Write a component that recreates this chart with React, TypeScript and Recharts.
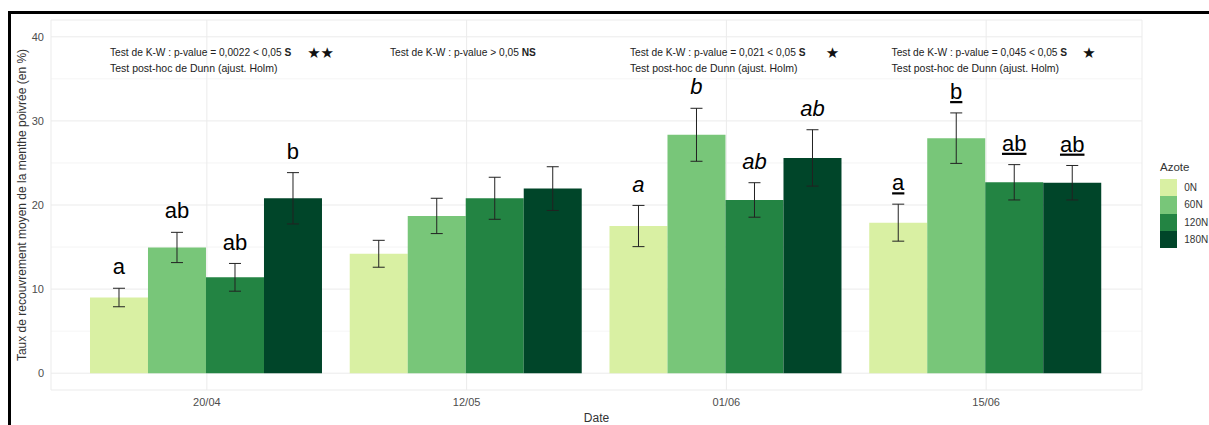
import React from 'react';
import {
  ComposedChart,
  Bar,
  XAxis,
  YAxis,
  CartesianGrid,
  ErrorBar,
  LabelList,
  ReferenceDot,
} from 'recharts';

// ---------- data ----------
const dates = ['20/04', '12/05', '01/06', '15/06'];
const datePos = [1, 2, 3, 4];
const series = ['0N', '60N', '120N', '180N'];
const colors = ['#d9f0a3', '#78c679', '#238443', '#004529'];

const mean0N = [9.0, 14.2, 17.5, 17.9];
const mean60N = [14.95, 18.7, 28.35, 27.95];
const mean120N = [11.4, 20.8, 20.6, 22.7];
const mean180N = [20.8, 21.95, 25.6, 22.65];

const se0N = [1.1, 1.6, 2.45, 2.2];
const se60N = [1.8, 2.1, 3.15, 3.0];
const se120N = [1.65, 2.5, 2.05, 2.1];
const se180N = [3.05, 2.6, 3.35, 2.05];

const letters0N = ['a', '', 'a', 'a'];
const letters60N = ['ab', '', 'b', 'b'];
const letters120N = ['ab', '', 'ab', 'ab'];
const letters180N = ['b', '', 'ab', 'ab'];
const letterStyles = ['plain', 'plain', 'italic', 'underline'];

const yTicks = [0, 10, 20, 30, 40];
const yMinorTicks = [5, 15, 25, 35];

const kwTexts = [
  'Test de K-W : p-value = 0,0022 < 0,05 ',
  'Test de K-W : p-value > 0,05 ',
  'Test de K-W : p-value = 0,021 < 0,05 ',
  'Test de K-W : p-value = 0,045 < 0,05 ',
];
const kwVerdicts = ['S', 'NS', 'S', 'S'];
const dunnTexts = [
  'Test post-hoc de Dunn (ajust. Holm)',
  '',
  'Test post-hoc de Dunn (ajust. Holm)',
  'Test post-hoc de Dunn (ajust. Holm)',
];
const annotX = [0.627, 1.705, 2.629, 3.636];
const annotY = 37.7;
const stars = ['★★', '', '★', '★'];
const starX = [1.386, 0, 3.383, 4.37];

const means = [mean0N, mean60N, mean120N, mean180N];
const ses = [se0N, se60N, se120N, se180N];
const letters = [letters0N, letters60N, letters120N, letters180N];

const data = dates.map((d, i) => {
  const row: any = { date: d, pos: datePos[i] };
  series.forEach((_, s) => {
    row[`m${s}`] = means[s][i];
    row[`e${s}`] = ses[s][i];
    row[`l${s}`] = letters[s][i];
  });
  return row;
});

const FONT = '"Liberation Sans", Arial, Helvetica, sans-serif';
const LETTER_PAD = 1.65;

const makeLetter = (si: number) => (props: any) => {
  const { index, value } = props;
  if (!value) return null;
  const vb = props.viewBox || {};
  const x = props.x ?? vb.x;
  const y = props.y ?? vb.y;
  const w = props.width ?? vb.width;
  const h = props.height ?? vb.height;
  const m = means[si][index];
  const e = ses[si][index];
  const ppu = Math.abs(h) / m;
  const ly = y - (e + LETTER_PAD) * ppu;
  const st = letterStyles[index];
  return (
    <text
      x={x + w / 2}
      y={ly}
      textAnchor="middle"
      fontSize={22}
      fontFamily={FONT}
      fontStyle={st === 'italic' ? 'italic' : 'normal'}
      textDecoration={st === 'underline' ? 'underline' : undefined}
      style={st === 'underline' ? { textDecoration: 'underline' } : undefined}
      fill="#000"
    >
      {value}
    </text>
  );
};

const makeAnnot = (i: number) => (p: any) => (
  <g>
    <text x={p.cx} y={p.cy} fontSize={10.2} fontFamily={FONT} fill="#222">
      {kwTexts[i]}
      <tspan fontWeight="bold">{kwVerdicts[i]}</tspan>
    </text>
    {dunnTexts[i] ? (
      <text x={p.cx} y={p.cy + 15.5} fontSize={10.5} fontFamily={FONT} fill="#222">
        {dunnTexts[i]}
      </text>
    ) : null}
  </g>
);

const makeStar = (i: number) => (p: any) => (
  <text x={p.cx} y={p.cy + 1.5} fontSize={15} fontFamily='"DejaVu Sans", sans-serif' fill="#111">
    {stars[i]}
  </text>
);

const YLabel = (props: any) => {
  const vb = props.viewBox || {};
  const cx = vb.x + 22;
  const cy = vb.y + vb.height / 2;
  return (
    <text
      x={cx}
      y={cy}
      transform={`rotate(-90, ${cx}, ${cy})`}
      textAnchor="middle"
      dominantBaseline="central"
      fontSize={12}
      fontFamily={FONT}
      fill="#333"
    >
      Taux de recouvrement moyen de la menthe poivrée (en %)
    </text>
  );
};

export default function App() {
  return (
    <div style={{ position: 'absolute', left: 0, top: 0, width: 1209, height: 425, background: '#fff', overflow: 'hidden' }}>
      <ComposedChart
        width={1209}
        height={425}
        data={data}
        margin={{ top: 20, right: 67, bottom: 0, left: 0 }}
        barCategoryGap="5%"
        barGap={0}
        style={{ fontFamily: FONT }}
      >
        <CartesianGrid stroke="#f1f1f1" strokeWidth={0.7} vertical={false} horizontalValues={yMinorTicks} />
        <CartesianGrid stroke="#ebebeb" strokeWidth={1} />
        <XAxis
          dataKey="date"
          padding={{ left: 26, right: 26 }}
          axisLine={false}
          tickLine={false}
          tickSize={0}
          tickMargin={8}
          height={35}
          tick={{ fill: '#4d4d4d', fontSize: 11, fontFamily: FONT }}
          label={{ value: 'Date', position: 'insideBottom', offset: 3, fill: '#333', fontSize: 12, fontFamily: FONT }}
        />
        <XAxis
          xAxisId="num"
          dataKey="pos"
          type="number"
          domain={[0.4, 4.6]}
          allowDataOverflow
          padding={{ left: 0, right: 0 }}
          hide
        />
        <YAxis
          domain={[-2, 42]}
          ticks={yTicks}
          allowDataOverflow
          axisLine={false}
          tickLine={false}
          tickSize={0}
          tickMargin={7}
          width={51}
          tick={{ fill: '#4d4d4d', fontSize: 11, fontFamily: FONT }}
          label={<YLabel />}
        />
        {series.map((s, si) => (
          <Bar key={s} dataKey={`m${si}`} name={s} fill={colors[si]} isAnimationActive={false}>
            <ErrorBar dataKey={`e${si}`} width={6} stroke="#222" strokeWidth={1} direction="y" />
            <LabelList dataKey={`l${si}`} content={makeLetter(si)} />
          </Bar>
        ))}
        {annotX.map((ax, i) => (
          <ReferenceDot key={`a${i}`} xAxisId="num" x={ax} y={annotY} r={0} ifOverflow="visible" shape={makeAnnot(i)} />
        ))}
        {starX.map((sx, i) =>
          stars[i] ? (
            <ReferenceDot key={`s${i}`} xAxisId="num" x={sx} y={annotY} r={0} ifOverflow="visible" shape={makeStar(i)} />
          ) : null
        )}
      </ComposedChart>
      <div style={{ position: 'absolute', left: 1160, top: 160, fontFamily: FONT, color: '#333' }}>
        <div style={{ fontSize: 11.5, lineHeight: '14px', height: 14, marginBottom: 5 }}>Azote</div>
        {series.map((s, i) => (
          <div key={s} style={{ display: 'flex', alignItems: 'center', height: 17.3 }}>
            <div style={{ width: 17.3, height: 17.3, background: colors[i] }} />
            <span style={{ marginLeft: 7, fontSize: 10 }}>{s}</span>
          </div>
        ))}
      </div>
      <div
        style={{
          position: 'absolute',
          left: 8,
          top: 11,
          width: 1209,
          height: 420,
          borderTop: '3px solid #000',
          borderLeft: '3px solid #000',
          pointerEvents: 'none',
        }}
      />
    </div>
  );
}
